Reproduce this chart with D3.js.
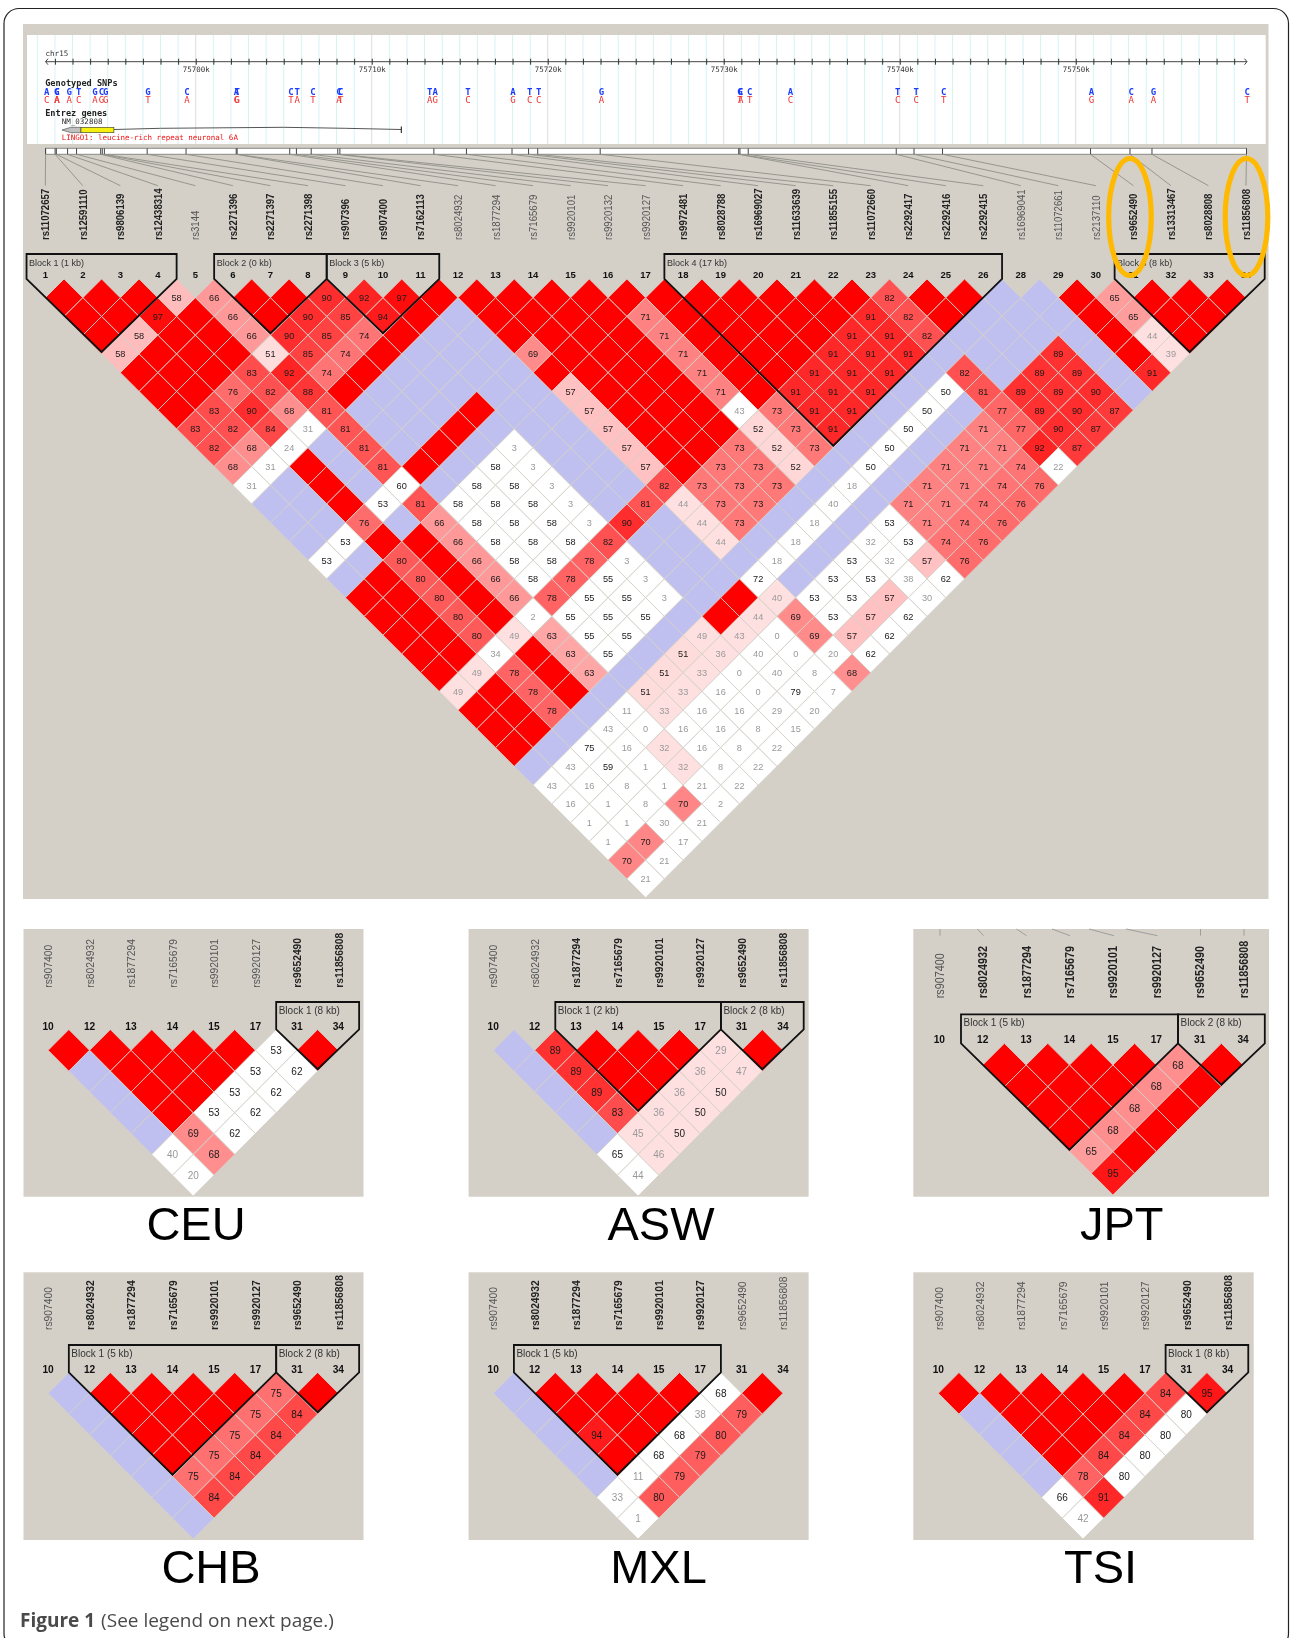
<!DOCTYPE html>
<html>
<head>
<meta charset="utf-8">
<script src="https://cdnjs.cloudflare.com/ajax/libs/d3/7.8.5/d3.min.js"></script>
<style>
    html, body { margin: 0; padding: 0; background: #fff; }
    svg { display: block; }
    .snp { font-family: "Liberation Sans", Arial, sans-serif; }
    .mono { font-family: "DejaVu Sans Mono", monospace; }
</style>
</head>
<body>
<div id="chart"></div>
<script>
// SNP names of the full region, in strip order (there is no marker 27)
const mainSnps = ["rs11072657","rs12591110","rs9806139","rs12438314","rs3144","rs2271396","rs2271397","rs2271398",
    "rs907396","rs907400","rs7162113","rs8024932","rs1877294","rs7165679","rs9920101","rs9920132","rs9920127",
    "rs9972481","rs8028788","rs16969027","rs11633639","rs11855155","rs11072660","rs2292417","rs2292416","rs2292415",
    "rs16969041","rs11072661","rs2137110","rs9652490","rs13313467","rs8028808","rs11856808"];
const mainNums = [1,2,3,4,5,6,7,8,9,10,11,12,13,14,15,16,17,18,19,20,21,22,23,24,25,26,28,29,30,31,32,33,34];
const mainBold = [1,1,1,1,0,1,1,1,1,1,1,0,0,0,0,0,0,1,1,1,1,1,1,1,1,1,0,0,0,1,1,1,1];
const mainBlockLabels = ["Block 1 (1 kb)","Block 2 (0 kb)","Block 3 (5 kb)","Block 4 (17 kb)","Block 5 (8 kb)"];
const mainBlockSpans = [[0,3],[5,7],[8,10],[17,25],[29,32]];

// position of each SNP on chr15, kb
const snpKb = [75691.47,75692.01,75692.08,75692.72,75693.23,75694.60,75694.69,75694.81,75697.24,75699.45,75702.30,
    75702.35,75705.34,75705.72,75706.56,75708.07,75708.19,75713.53,75715.38,75717.97,75718.91,75719.43,75722.98,
    75730.85,75730.92,75731.39,75739.80,75740.81,75742.43,75750.84,75753.08,75754.33,75759.70];
const alleleKb = [75691.53,75692.10,75692.13,75692.81,75693.35,75694.27,75694.65,75694.88,75697.28,75699.50,75702.32,
    75702.35,75705.41,75705.76,75706.66,75708.14,75708.24,75713.30,75713.61,75715.47,75718.03,75718.98,75719.49,
    75723.05,75730.92,75730.96,75731.48,75733.79,75739.89,75740.93,75742.50,75750.89,75753.15,75754.42,75759.74];
const alleleTop =    "A G C G T G C G G C A T C T C C C T A T A T T G G C C A T T C A C G C".split(" ");
const alleleBottom = "C A A A C A G G T A G G T A T A T A G C G C C A T A T C C C T G A A T".split(" ");

// r = D' 100 strong, b = D' 100 weak (blue), number = strong with D' below 100, w.. = weak (white), - = no cell
const ldRows = [
    "r r r 58 66 r r 90 92 97 r r r r r r r r r r r r 82 r r b b r 65 r r r",
    "r r 97 r 66 r 90 85 94 r b r r r r 71 r r r r r 91 82 r b b b r 65 r r",
    "r 58 r r 66 90 85 74 r b b r r r r 71 r r r r 91 91 82 b b b b r 44 r",
    "58 r r r 51 85 74 r b b b 69 r r r 71 r r r 91 91 91 b b b 89 b r 39",
    "r r r 83 92 74 r b b b b r r r r 71 r r 91 91 91 b 82 b 89 89 b 91",
    "r r 76 82 88 r b b b b b 57 r r r 71 r 91 91 91 b w50 81 89 89 90 b",
    "r 83 90 68 81 b b b r b b 57 r r r w43 73 91 91 b w50 b 77 89 90 87",
    "83 82 84 w31 81 b b r b b b 57 r r r 52 73 91 b w50 b 71 77 90 87",
    "82 68 w24 b 81 b r b w3 b b 57 r r 73 52 73 b w50 b 71 71 92 87",
    "68 w31 r b 81 r b w58 w3 b b 57 r 73 73 52 b w50 b 71 71 74 w22",
    "w31 b r b w60 b w58 w58 w3 b b 82 73 73 73 b w18 b 71 71 74 76",
    "b b r w53 81 w58 w58 w58 w3 b 81 44 73 73 b w40 b 71 71 74 76",
    "b b 76 b 66 w58 w58 w58 w3 90 b 44 73 b w18 b w53 71 74 76",
    "b w53 r r 66 w58 w58 w58 82 b b 44 b w18 b w32 w53 74 76",
    "w53 b 80 r 66 w58 w58 78 w3 b b b w18 b w53 w32 57 76",
    "b r 80 r 66 w58 78 w55 w3 b b w72 b w53 w53 w38 w62",
    "r r 80 r 66 78 w55 w55 w3 b r 40 w53 w53 57 w30",
    "r r 80 r w2 w55 w55 w55 b r 44 69 w53 57 w62",
    "r r 80 49 63 w55 w55 b 49 43 w0 69 57 w62",
    "r r w34 r 63 w55 b 51 36 w40 w0 w20 w62",
    "r 49 78 r 63 b 51 33 w0 w40 w8 68",
    "49 r 78 r b 51 33 w16 w0 w79 w7",
    "r r 78 b w11 33 w16 w16 w29 w20",
    "r r b w43 w0 w16 w16 w8 w15",
    "r b w75 w16 32 w16 w8 w22",
    "b w43 w59 w1 32 w8 w22",
    "w43 w16 w8 w1 w21 w22",
    "w16 w1 w8 70 w2",
    "w1 w1 w30 w21",
    "w1 70 w17",
    "70 w21",
    "w21"
];

// the eight markers shown for each population
const popSnps = ["rs907400","rs8024932","rs1877294","rs7165679","rs9920101","rs9920127","rs9652490","rs11856808"];
const popNums = [10,12,13,14,15,17,31,34];

const ceuRows = ["r r r r r w53 r","b r r r w53 w62","b r r w53 w62","b r w53 w62","b 69 w62","w40 68","w20"];
const aswRows = ["b 89 r r r 29 r","b 89 r r 36 47","b 89 r 36 50","b 83 36 50","b 45 50","w65 46","w44"];
const jptRows = ["- r r r r 68 r","- r r r 68 r","- r r 68 r","- r 68 r","- 65 r","- 95","-"];
const chbRows = ["b r r r r 75 r","b r r r 75 84","b r r 75 84","b r 75 84","b 75 84","b 84","b"];
const mxlRows = ["b r r r r w68 r","b r r r w38 79","b 94 r w68 80","b r w68 79","b w11 79","w33 80","w1"];
const tsiRows = ["r r r r r 84 95","b r r r 84 w80","b r r 84 w80","b r 84 w80","b 78 w80","w66 91","w42"];

const ceuBold = [0,0,0,0,0,0,1,1], aswBold = [0,0,1,1,1,1,1,1], jptBold = [0,1,1,1,1,1,1,1];
const chbBold = [0,1,1,1,1,1,1,1], mxlBold = [0,1,1,1,1,1,0,0], tsiBold = [0,0,0,0,0,0,1,1];

const ceuBlocks = [["Block 1 (8 kb)",6,7]];
const aswBlocks = [["Block 1 (2 kb)",2,5],["Block 2 (8 kb)",6,7]];
const jptBlocks = [["Block 1 (5 kb)",1,5],["Block 2 (8 kb)",6,7]];
const chbBlocks = [["Block 1 (5 kb)",1,5],["Block 2 (8 kb)",6,7]];
const mxlBlocks = [["Block 1 (5 kb)",1,5]];
const tsiBlocks = [["Block 1 (8 kb)",6,7]];

const BG = "#d4d0c8";
const ldColor = d3.scaleLinear().domain([50, 100]).range(["#ffe0e0", "#ff0000"]).clamp(true);

const svg = d3.select("#chart").append("svg").attr("width", 1290).attr("height", 1638);

// page frame, runs off the bottom of the page
svg.append("rect").attr("x", 4).attr("y", 8.5).attr("width", 1284.5).attr("height", 1640).attr("rx", 15)
    .attr("fill", "#fff").attr("stroke", "#222").attr("stroke-width", 1.2);

function drawLD(g, rows, o) {
    let x = d3.scaleLinear().domain([0, 1]).range([o.x0, o.x0 + o.step]);
    let y = d3.scaleLinear().domain([1, 2]).range([o.y0, o.y0 + o.rowH]);
    let hw = o.step / 2, hh = o.rowH;

    let cells = [];
    rows.forEach((row, r) => {
        row.split(" ").forEach((t, i) => {
            if (t == "-") return;
            let d = r + 1;
            cells.push({k: i + d / 2, d: d, t: t});
        });
    });

    g.selectAll(".cell").data(cells).enter().append("path")
        .attr("class", "cell")
        .attr("d", d => "M" + x(d.k) + " " + (y(d.d) - hh) + "L" + (x(d.k) + hw) + " " + y(d.d)
            + "L" + x(d.k) + " " + (y(d.d) + hh) + "L" + (x(d.k) - hw) + " " + y(d.d) + "Z")
        .attr("fill", d => {
            if (d.t == "r") return "#ff0000";
            if (d.t == "b") return "#c0c0f0";
            if (d.t[0] == "w") return "#ffffff";
            return ldColor(+d.t);
        })
        .attr("stroke", BG).attr("stroke-width", 0.9);

    g.selectAll(".val").data(cells.filter(d => d.t != "r" && d.t != "b")).enter().append("text")
        .attr("class", "val snp")
        .attr("x", d => x(d.k)).attr("y", d => y(d.d))
        .attr("dy", ".36em").attr("text-anchor", "middle")
        .attr("font-size", o.valSize)
        .attr("fill", d => (+d.t.replace("w", "") < 50) ? "#999" : "#1a1a1a")
        .text(d => d.t.replace("w", ""));

    // marker numbers
    g.selectAll(".num").data(o.nums).enter().append("text")
        .attr("class", "num snp")
        .attr("x", (d, i) => x(i)).attr("y", o.numY).attr("dy", ".36em")
        .attr("text-anchor", "middle").attr("font-size", o.numSize).attr("font-weight", "bold").attr("fill", "#111")
        .text(d => d);

    // rotated rs names, stretched across the reading direction like the source
    g.selectAll(".name").data(o.names).enter().append("text")
        .attr("class", "name snp")
        .attr("transform", (d, i) => "translate(" + x(i) + "," + o.nameY + ") rotate(-90) scale(1,1.15)")
        .attr("dy", ".36em")
        .attr("font-size", o.nameSize)
        .attr("font-weight", (d, i) => o.bold[i] ? "bold" : "normal")
        .attr("fill", (d, i) => o.bold[i] ? "#222" : "#555")
        .text(d => d);

    // haplotype blocks
    let base = o.y0 - o.rowH;
    o.blocks.forEach(b => {
        let l = x(b[1]) - hw, r = x(b[2]) + hw, n = b[2] - b[1] + 1;
        g.append("path")
            .attr("d", "M" + l + " " + base + "L" + l + " " + o.blockTop + "L" + r + " " + o.blockTop + "L" + r + " " + base
                + "L" + ((l + r) / 2) + " " + (base + n * o.rowH - 2) + "Z")
            .attr("fill", "none").attr("stroke", "#111").attr("stroke-width", 1.8);
        g.append("text").attr("class", "snp")
            .attr("x", l + 2.5).attr("y", o.blockTop + 8.5).attr("dy", ".36em")
            .attr("font-size", o.blockSize).attr("fill", "#333")
            .text(b[0]);
    });
}

// main panel
svg.append("rect").attr("x", 23).attr("y", 24).attr("width", 1245.5).attr("height", 875).attr("fill", BG);
svg.append("rect").attr("x", 27).attr("y", 35).attr("width", 1238.7).attr("height", 109).attr("fill", "#fff");

let track = svg.append("g").style("filter", "blur(0.35px)");
let kbScale = d3.scaleLinear().domain([75691.47, 75759.70]).range([45.6, 1246.5]);

track.selectAll(".grid").data(d3.range(75691, 75760)).enter().append("line")
    .attr("x1", d => kbScale(d)).attr("x2", d => kbScale(d)).attr("y1", 35).attr("y2", 144)
    .attr("stroke", d => d % 10 == 0 ? "#dcdcdc" : "#d6f3f3").attr("stroke-width", 1);

let axis = d3.axisBottom(kbScale)
    .tickValues(d3.range(75692, 75760))
    .tickSize(3)
    .tickFormat(d => d % 10 == 0 ? d + "k" : "");
let axisG = track.append("g").attr("transform", "translate(0,61.7)").call(axis);
axisG.select(".domain").attr("stroke", "#444").attr("d", "M45.6 0H1247");
axisG.selectAll(".tick line").attr("y1", -3).attr("stroke", "#333");
axisG.selectAll(".tick text").attr("class", "mono").attr("font-size", 7.5).attr("fill", "#333")
    .attr("dy", 0).attr("y", 10).attr("font-family", "'DejaVu Sans Mono', monospace");
track.append("path").attr("d", "M48 58.7L45.6 61.7L48 64.7M1244.5 58.7L1247 61.7L1244.5 64.7")
    .attr("fill", "none").attr("stroke", "#444");

const monoText = (s, x, y, size, weight, fill) => track.append("text").attr("class", "mono")
    .attr("x", x).attr("y", y).attr("dy", ".36em").attr("font-size", size)
    .attr("font-weight", weight).attr("fill", fill).text(s);

monoText("chr15", 45.6, 53.3, 7.5, "normal", "#333");
monoText("Genotyped SNPs", 45.2, 83.3, 8.6, "bold", "#222");
monoText("Entrez genes", 45.2, 112.7, 8.6, "bold", "#222");
monoText("NM_032808", 61.8, 121.7, 7.5, "normal", "#333");
monoText("LINGO1: leucine-rich repeat neuronal 6A", 61.8, 137.7, 7.5, "normal", "#f01010");

track.selectAll(".a1").data(alleleTop).enter().append("text").attr("class", "mono")
    .attr("x", (d, i) => kbScale(alleleKb[i])).attr("y", 91.7).attr("dy", ".36em")
    .attr("text-anchor", "middle").attr("font-size", 9).attr("font-weight", "bold").attr("fill", "#1a3cff").text(d => d);
track.selectAll(".a2").data(alleleBottom).enter().append("text").attr("class", "mono")
    .attr("x", (d, i) => kbScale(alleleKb[i])).attr("y", 99.3).attr("dy", ".36em")
    .attr("text-anchor", "middle").attr("font-size", 9).attr("fill", "#f03030").text(d => d);

// gene model
track.append("path")
    .attr("d", d3.line()([[kbScale(75695.35), 129.5], [kbScale(75698), 128.3], [kbScale(75705), 127.3], [kbScale(75708.5), 128.3], [kbScale(75711.68), 129.5]]))
    .attr("fill", "none").attr("stroke", "#555").attr("stroke-width", 1);
track.append("path")
    .attr("d", "M" + kbScale(75692.4) + " 130L" + kbScale(75692.9) + " 127.3H" + kbScale(75693.48) + "V132.7H" + kbScale(75692.9) + "Z")
    .attr("fill", "#c0c0c0").attr("stroke", "#444").attr("stroke-width", 0.6);
track.append("rect").attr("x", kbScale(75693.48)).attr("y", 127.3)
    .attr("width", kbScale(75695.35) - kbScale(75693.48)).attr("height", 5.4)
    .attr("fill", "#f5f010").attr("stroke", "#333").attr("stroke-width", 0.6);
track.append("line").attr("x1", kbScale(75711.68)).attr("x2", kbScale(75711.68)).attr("y1", 126.5).attr("y2", 133)
    .attr("stroke", "#111").attr("stroke-width", 1);

// strip under the track, with leaders to the names
const mainOpts = {x0: 45.3, step: 37.52, y0: 297.7, rowH: 18.75, numY: 275, nameY: 240, blockTop: 254,
    valSize: 9.2, numSize: 9.5, nameSize: 9.6, blockSize: 9,
    names: mainSnps, nums: mainNums, bold: mainBold,
    blocks: mainBlockSpans.map((s, i) => [mainBlockLabels[i], s[0], s[1]])};

let ruler = svg.append("g").style("filter", "blur(0.35px)");
ruler.append("rect").attr("x", kbScale(snpKb[0])).attr("y", 148.3)
    .attr("width", kbScale(snpKb[32]) - kbScale(snpKb[0])).attr("height", 6)
    .attr("fill", "#fff").attr("stroke", "#8a8a85").attr("stroke-width", 1);
ruler.selectAll(".mark").data(snpKb).enter().append("line")
    .attr("x1", d => kbScale(d)).attr("x2", d => kbScale(d)).attr("y1", 148.3).attr("y2", 154.3)
    .attr("stroke", "#444").attr("stroke-width", 1);
ruler.selectAll(".leader").data(snpKb).enter().append("line")
    .attr("x1", d => kbScale(d)).attr("y1", 154.3)
    .attr("x2", (d, i) => mainOpts.x0 + i * mainOpts.step).attr("y2", 185.7)
    .attr("stroke", "#8e8e88").attr("stroke-width", 0.9);

drawLD(svg.append("g").style("filter", "blur(0.35px)"), ldRows, mainOpts);

// population panels
function popPanel(rect, rows, bold, blocks, o, caption) {
    svg.append("rect").attr("x", rect[0]).attr("y", rect[1]).attr("width", rect[2] - rect[0]).attr("height", rect[3] - rect[1]).attr("fill", BG);
    drawLD(svg.append("g").style("filter", "blur(0.35px)"), rows, Object.assign({
        valSize: 10, numSize: 10.2, nameSize: 10.3, blockSize: 10, rowH: 20.83,
        names: popSnps, nums: popNums, bold: bold, blocks: blocks}, o));
    svg.append("text").attr("class", "snp")
        .attr("x", caption[0]).attr("y", caption[1]).attr("text-anchor", "middle")
        .attr("font-size", 47).attr("fill", "#000")
        .text(caption[2]);
}

const upperY = {y0: 1050.3, numY: 1026.3, nameY: 987.7, blockTop: 1002};
const lowerY = {y0: 1393.3, numY: 1369, nameY: 1330, blockTop: 1345};

popPanel([23.5, 929, 363.5, 1196.7], ceuRows, ceuBold, ceuBlocks, Object.assign({x0: 48.1, step: 41.47}, upperY), [196, 1240, "CEU"]);
popPanel([468.6, 929, 808.6, 1196.7], aswRows, aswBold, aswBlocks, Object.assign({x0: 493.2, step: 41.4}, upperY), [661, 1240, "ASW"]);
popPanel([913.3, 929, 1269, 1196.7], jptRows, jptBold, jptBlocks,
    {x0: 939.3, step: 43.4, rowH: 21.67, y0: 1065, numY: 1039, nameY: 998.3, blockTop: 1014.3, nameSize: 10.8, valSize: 10.2}, [1121.7, 1240, "JPT"]);
popPanel([23.5, 1272.3, 363.5, 1540], chbRows, chbBold, chbBlocks, Object.assign({x0: 48.1, step: 41.47}, lowerY), [211, 1583.3, "CHB"]);
popPanel([468.6, 1272.3, 808.6, 1540], mxlRows, mxlBold, mxlBlocks, Object.assign({x0: 493.2, step: 41.4}, lowerY), [658.5, 1583.3, "MXL"]);
popPanel([913.3, 1272.3, 1253.7, 1540], tsiRows, tsiBold, tsiBlocks, Object.assign({x0: 938.3, step: 41.33}, lowerY), [1100.5, 1583.3, "TSI"]);

// cut-off leaders at the top of the JPT panel
let stubs = svg.append("g").attr("stroke", "#999").attr("stroke-width", 0.9);
[[940,940],[977.5,983.5],[1016.5,1026.5],[1052,1070],[1089,1114],[1126,1157.5],[1200.5,1200.5],[1244,1244]].forEach(s => {
    stubs.append("line").attr("x1", s[0]).attr("y1", 929).attr("x2", s[1]).attr("y2", 935.7);
});

// orange rings around the two marked SNPs
svg.selectAll(".ring").data([snpKb[30], snpKb[32]]).enter().append("ellipse")
    .attr("cx", d => kbScale(d)).attr("cy", 217)
    .attr("rx", 21.3).attr("ry", 58.5)
    .attr("fill", "none").attr("stroke", "#ffb900").attr("stroke-width", 5.2);

// caption line
let cap = svg.append("text").attr("x", 20).attr("y", 1626.5)
    .attr("font-family", "'Open Sans', sans-serif").attr("font-size", 19).attr("fill", "#4a4a4a");
cap.append("tspan").attr("font-weight", "bold").text("Figure 1");
cap.append("tspan").attr("dx", 6).text("(See legend on next page.)");
</script>
</body>
</html>
